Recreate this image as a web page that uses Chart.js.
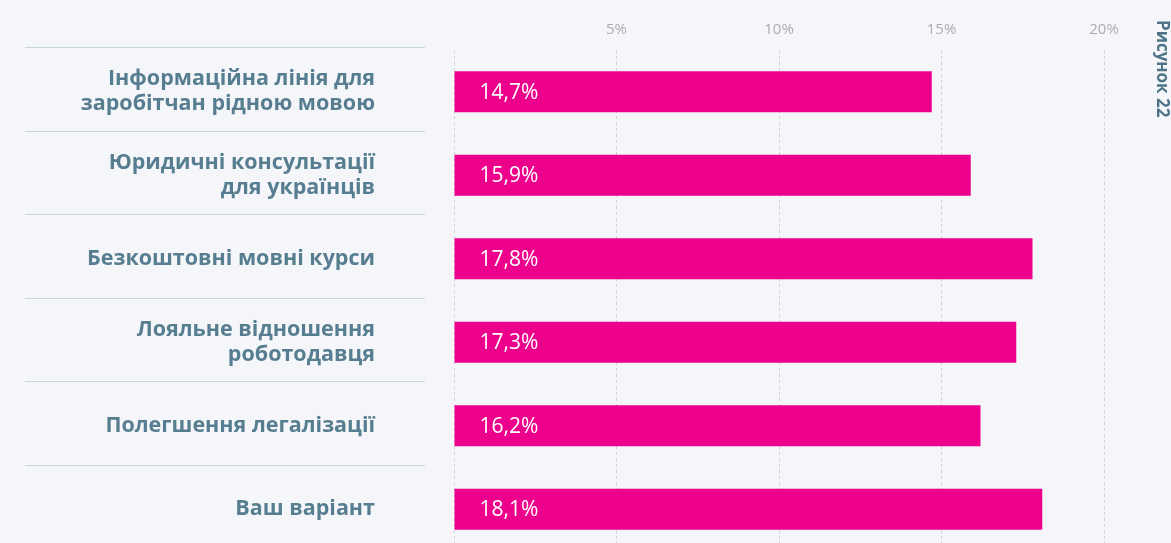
<!DOCTYPE html>
<html>
<head>
<meta charset="utf-8">
<script src="https://cdn.jsdelivr.net/npm/chart.js@4.4.1/dist/chart.umd.min.js"></script>
<style>
  html, body { margin: 0; padding: 0; background: #f5f6fa; overflow: hidden; }
  #wrap { width: 1171px; height: 551px; }
</style>
</head>
<body>
<div id="wrap"><canvas id="chart" width="1171" height="551"></canvas></div>
<script>
// Дані
const categories = [
  ['Інформаційна лінія для', 'заробітчан рідною мовою'],
  ['Юридичні консультації', 'для українців'],
  'Безкоштовні мовні курси',
  ['Лояльне відношення', 'роботодавця'],
  'Полегшення легалізації',
  'Ваш варіант'
];
const values = [14.7, 15.9, 17.8, 17.3, 16.2, 18.1];
const tickValues = [0, 5, 10, 15, 20];
const figureTitle = 'Рисунок 22';

const FONT = "'Open Sans', sans-serif";

// лінії-розділювачі між категоріями зліва
const separators = {
  id: 'separators',
  beforeDatasetsDraw(chart) {
    const y = chart.scales.y;
    const ctx = chart.ctx;
    const band = (y.bottom - y.top) / categories.length;
    ctx.save();
    ctx.strokeStyle = '#c8d7df';
    ctx.lineWidth = 1;
    for (let i = 0; i < categories.length; i++) {
      const py = Math.round(y.getPixelForValue(i) - band / 2) - 2.5;
      ctx.beginPath();
      ctx.moveTo(25, py);
      ctx.lineTo(425, py);
      ctx.stroke();
    }
    ctx.restore();
  }
};

// підписи значень всередині стовпчиків + підпис рисунка
const valueLabels = {
  id: 'valueLabels',
  afterDatasetsDraw(chart) {
    const ctx = chart.ctx;
    const meta = chart.getDatasetMeta(0);
    ctx.save();
    ctx.font = '21px ' + FONT;
    ctx.fillStyle = '#ffffff';
    ctx.textAlign = 'left';
    ctx.textBaseline = 'middle';
    meta.data.forEach((bar, i) => {
      const txt = values[i].toFixed(1).replace('.', ',') + '%';
      ctx.fillText(txt, bar.base + 25, bar.y + 1);
    });

    ctx.translate(1162, 20);
    ctx.rotate(Math.PI / 2);
    ctx.font = 'bold 17px ' + FONT;
    ctx.fillStyle = '#4f7487';
    ctx.textBaseline = 'middle';
    ctx.fillText(figureTitle, 0, 0);
    ctx.restore();
  }
};

new Chart(document.getElementById('chart'), {
  type: 'bar',
  data: {
    labels: categories,
    datasets: [{
      data: values,
      backgroundColor: '#ec008c',
      borderWidth: 0,
      categoryPercentage: 1,
      barPercentage: 0.49
    }]
  },
  options: {
    indexAxis: 'y',
    responsive: false,
    animation: false,
    events: [],
    layout: { padding: { left: 0, right: 67, top: 0, bottom: 0 } },
    plugins: {
      legend: { display: false },
      tooltip: { enabled: false }
    },
    scales: {
      x: {
        position: 'top',
        min: 0,
        max: 20,
        afterBuildTicks: (scale) => { scale.ticks = tickValues.map(v => ({ value: v })); },
        afterFit: (scale) => {
          scale.height = 50;
          scale.paddingLeft = 0;
          scale.paddingRight = 0;
        },
        grid: {
          color: '#cfd1d6',
          lineWidth: 1,
          drawTicks: false
        },
        border: { display: false, dash: [3, 3] },
        ticks: {
          padding: 11,
          color: '#abadb1',
          font: { family: FONT, size: 15 },
          callback: (v) => v === 0 ? '' : v + '%'
        }
      },
      y: {
        afterFit: (scale) => {
          scale.width = 454;
          scale.paddingTop = 0;
          scale.paddingBottom = 0;
        },
        border: { display: false },
        grid: { display: false, drawTicks: true, tickLength: 79 },
        ticks: {
          padding: 0,
          crossAlign: 'near',
          color: '#577e90',
          font: { family: FONT, size: 21.5, weight: 'bold', lineHeight: 1.17 }
        }
      }
    }
  },
  plugins: [separators, valueLabels]
});
</script>
</body>
</html>
